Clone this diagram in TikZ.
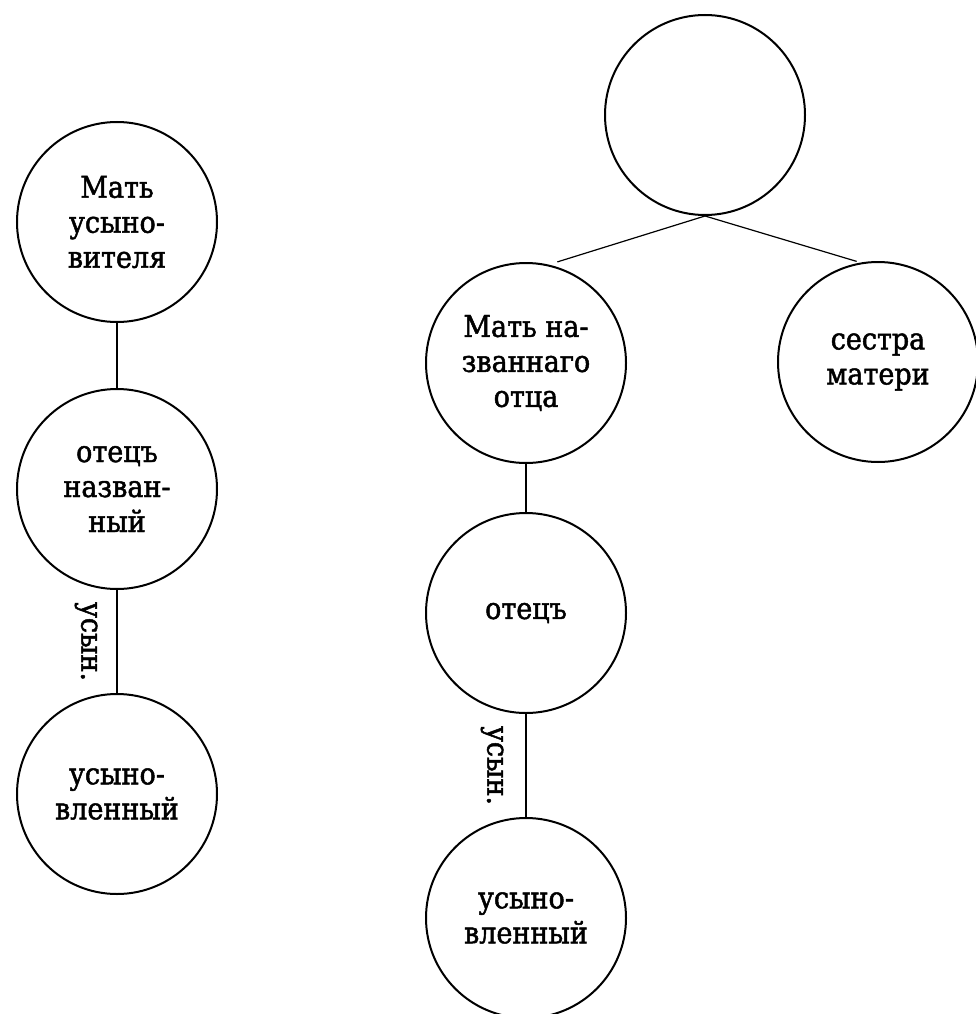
\documentclass[tikz,border=0pt]{standalone}
\usepackage{fontspec}
\setmainfont{DejaVu Serif}[FakeStretch=0.9,FakeBold=1.6]
\begin{document}
\begin{tikzpicture}[x=1pt,y=-1pt,
  person/.style={circle, draw, line width=2pt, minimum size=200pt, inner sep=0pt,
    align=center, font=\fontsize{30}{35}\selectfont},
  link/.style={line width=1.2pt},
  rel/.style={rotate=-90, anchor=north, font=\fontsize{30}{35}\selectfont}]
\useasboundingbox[fill=white] (0,0) rectangle (976,1014);
% left family
\node[person] (a1) at (117,222) {Мать\\усыно-\\вителя};
\node[person] (a2) at (117,489) {отецъ\\назван-\\ный};
\node[person] (a3) at (117,794) {усыно-\\вленный};
\draw[link] (a1) -- (a2);
\draw[link] (a2) -- node[midway, rel, inner sep=19pt] {усын.} (a3);
% right family
\node[person] (top) at (705,115) {};
\node[person] (b1) at (526,363) {Мать на-\\званнаго\\отца};
\node[person] (sis) at (878,362) {сестра\\матери};
\node[person] (b2) at (526,613) {отецъ};
\node[person] (b3) at (526,918) {усыно-\\вленный};
\draw[link, shorten >=9pt] (top.south) -- (b1.77);
\draw[link, shorten >=4pt] (top.south) -- (sis.100);
\draw[link] (b1) -- (b2);
\draw[link] (b2) -- node[midway, rel, inner sep=22pt] {усын.} (b3);
\end{tikzpicture}
\end{document}
